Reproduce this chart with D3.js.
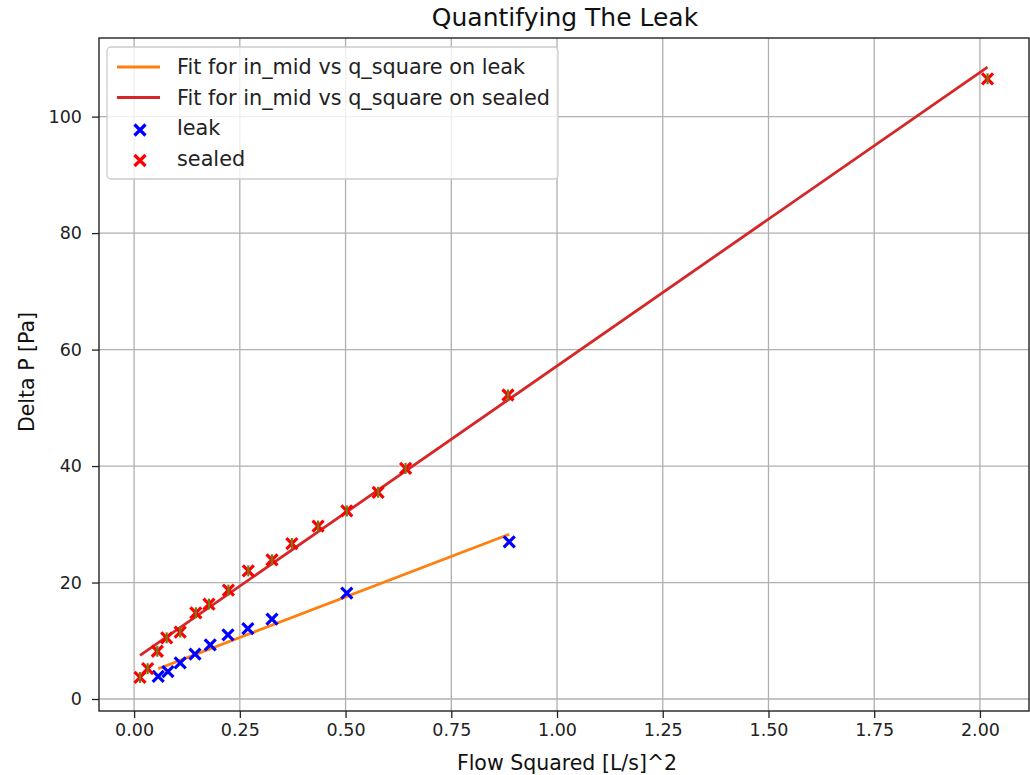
<!DOCTYPE html>
<html>
<head>
<meta charset="utf-8">
<script src="https://cdn.jsdelivr.net/npm/d3@7"></script>
<style>
  body { margin: 0; background: #fff; }
  svg { font-family: "DejaVu Sans", sans-serif; }
</style>
</head>
<body>
<svg id="chart" width="1030" height="775"></svg>
<script>
// data
const leakX   = [0.057, 0.080, 0.109, 0.144, 0.180, 0.222, 0.269, 0.326, 0.503, 0.887];
const leakY   = [3.9, 4.7, 6.2, 7.7, 9.3, 11.0, 12.1, 13.7, 18.2, 27.0];
const sealedX = [0.014, 0.032, 0.055, 0.077, 0.109, 0.146, 0.177, 0.223, 0.270, 0.326, 0.373, 0.435, 0.503, 0.577, 0.642, 0.884, 2.018];
const sealedY = [3.7, 5.2, 8.2, 10.5, 11.5, 14.8, 16.3, 18.7, 22.0, 23.9, 26.7, 29.7, 32.3, 35.5, 39.6, 52.2, 106.5];
// fit lines (end points)
const leakFitX   = [0.057, 0.887];
const leakFitY   = [5.2, 28.3];
const sealedFitX = [0.014, 2.018];
const sealedFitY = [7.5, 108.5];
const xTicks = [0, 0.25, 0.5, 0.75, 1.0, 1.25, 1.5, 1.75, 2.0];
const yTicks = [0, 20, 40, 60, 80, 100];

const svg = d3.select("#chart");
const pLeft = 99, pRight = 1029, pTop = 38, pBottom = 711;

const x = d3.scaleLinear().domain([-0.083, 2.116]).range([pLeft, pRight]);
const y = d3.scaleLinear().domain([-2.06, 113.5]).range([pBottom, pTop]);

// grid
svg.append("g").selectAll("line").data(xTicks).enter().append("line")
    .attr("x1", d => x(d)).attr("x2", d => x(d))
    .attr("y1", pTop).attr("y2", pBottom)
    .attr("stroke", "#b0b0b0").attr("stroke-width", 1.3);
svg.append("g").selectAll("line").data(yTicks).enter().append("line")
    .attr("y1", d => y(d)).attr("y2", d => y(d))
    .attr("x1", pLeft).attr("x2", pRight)
    .attr("stroke", "#b0b0b0").attr("stroke-width", 1.3);

// axes
const xAxis = svg.append("g").attr("transform", `translate(0,${pBottom})`)
    .call(d3.axisBottom(x).tickValues(xTicks).tickFormat(d3.format(".2f")).tickSize(7).tickPadding(6));
const yAxis = svg.append("g").attr("transform", `translate(${pLeft},0)`)
    .call(d3.axisLeft(y).tickValues(yTicks).tickSize(7).tickPadding(10));
[xAxis, yAxis].forEach(a => {
    a.select(".domain").remove();
    a.selectAll("text").attr("font-size", 17.5).attr("fill", "#222").attr("font-family", "DejaVu Sans");
    a.selectAll("line").attr("stroke", "#222").attr("stroke-width", 1.3);
});

// frame
svg.append("rect").attr("x", pLeft).attr("y", pTop)
    .attr("width", pRight - pLeft).attr("height", pBottom - pTop)
    .attr("fill", "none").attr("stroke", "#222").attr("stroke-width", 1.4);

// fit lines
const line = d3.line().x(d => x(d[0])).y(d => y(d[1]));
svg.append("path").datum(d3.zip(leakFitX, leakFitY)).attr("d", line)
    .attr("fill", "none").attr("stroke", "#ff7f0e").attr("stroke-width", 2.8);
svg.append("path").datum(d3.zip(sealedFitX, sealedFitY)).attr("d", line)
    .attr("fill", "none").attr("stroke", "#d62728").attr("stroke-width", 2.8);

// x markers
function cross(g, px, py, color, s) {
    g.append("path")
        .attr("d", `M${px - s},${py - s}L${px + s},${py + s}M${px - s},${py + s}L${px + s},${py - s}`)
        .attr("stroke", color).attr("stroke-width", 3.2).attr("fill", "none");
}
const leakG = svg.append("g");
d3.zip(leakX, leakY).forEach(d => cross(leakG, x(d[0]), y(d[1]), "#0000ff", 5.5));
const sealedG = svg.append("g");
d3.zip(sealedX, sealedY).forEach(d => {
    cross(sealedG, x(d[0]), y(d[1]), "#ff0000", 5.5);
    sealedG.append("line")
        .attr("x1", x(d[0])).attr("x2", x(d[0]))
        .attr("y1", y(d[1]) - 5.5).attr("y2", y(d[1]) + 5.5)
        .attr("stroke", "#6f7d14").attr("stroke-width", 2.2);
});

// title & labels
svg.append("text").attr("x", 565).attr("y", 26)
    .attr("text-anchor", "middle").attr("font-size", 25).attr("fill", "#111")
    .text("Quantifying The Leak");
svg.append("text").attr("x", 567).attr("y", 770)
    .attr("text-anchor", "middle").attr("font-size", 20.5).attr("fill", "#111")
    .text("Flow Squared [L/s]^2");
svg.append("text").attr("transform", "translate(34,372) rotate(-90)")
    .attr("text-anchor", "middle").attr("font-size", 20.5).attr("fill", "#111")
    .text("Delta P [Pa]");

// legend
const lg = svg.append("g");
lg.append("rect").attr("x", 107).attr("y", 47).attr("width", 451).attr("height", 132)
    .attr("rx", 4).attr("fill", "#fff").attr("fill-opacity", 0.8)
    .attr("stroke", "#cccccc").attr("stroke-width", 1.3);
const legendItems = [
    { label: "Fit for in_mid vs q_square on leak", kind: "line", color: "#ff7f0e" },
    { label: "Fit for in_mid vs q_square on sealed", kind: "line", color: "#d62728" },
    { label: "leak", kind: "cross", color: "#0000ff" },
    { label: "sealed", kind: "cross", color: "#ff0000" }
];
legendItems.forEach((it, i) => {
    const yy = 67 + i * 30.5;
    if (it.kind === "line") {
        lg.append("line").attr("x1", 117).attr("x2", 160).attr("y1", yy).attr("y2", yy)
            .attr("stroke", it.color).attr("stroke-width", 2.8);
    } else {
        cross(lg, 140, yy + 2, it.color, 5.5);
    }
    lg.append("text").attr("x", 177).attr("y", yy + 7)
        .attr("font-size", 20.8).attr("fill", "#222").text(it.label);
});
</script>
</body>
</html>
